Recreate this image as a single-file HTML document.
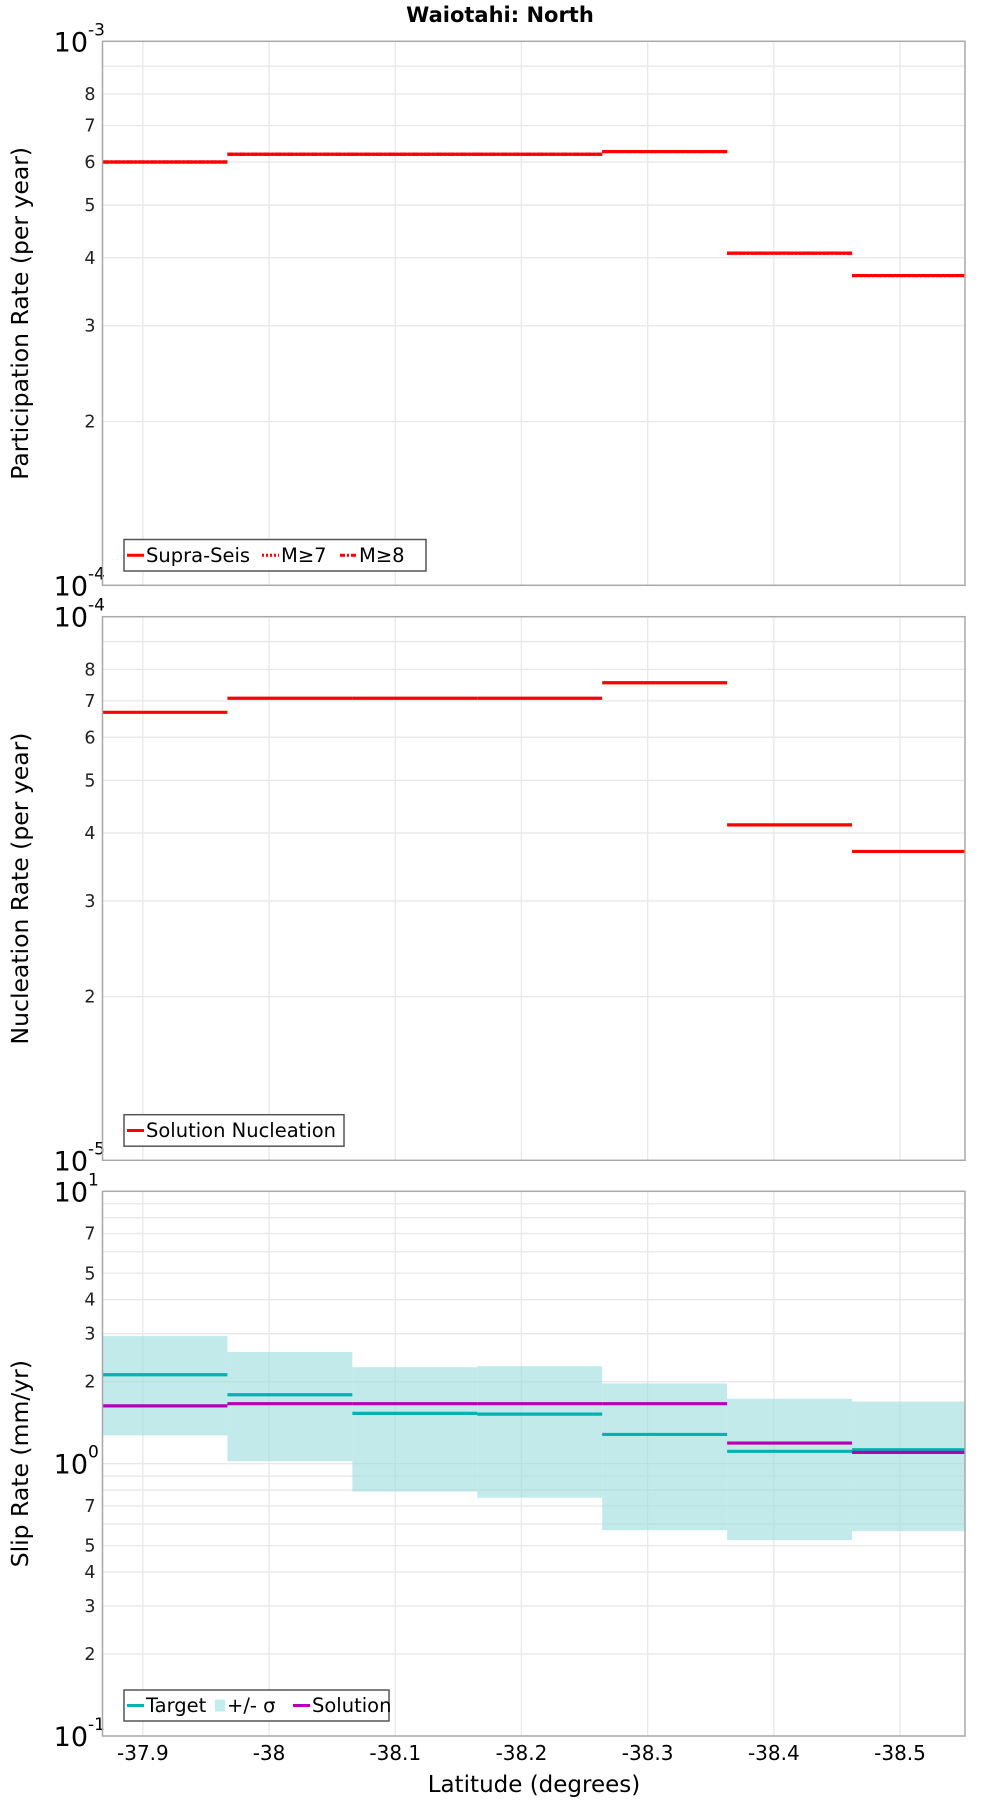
<!DOCTYPE html>
<html><head><meta charset="utf-8"><style>
html,body{margin:0;padding:0;background:#fff}
svg{display:block;font-family:"DejaVu Sans","Liberation Sans",sans-serif}
</style></head><body>
<svg id="chart" width="1000" height="1800" viewBox="0 0 1000 1800" xmlns="http://www.w3.org/2000/svg">
<text x="500" y="22" text-anchor="middle" font-size="21" font-weight="bold">Waiotahi: North</text>
<text x="534" y="1792" text-anchor="middle" font-size="23">Latitude (degrees)</text>
</svg>
<script>
// ---- data ----
const segStarts = [-37.868, -37.967, -38.066, -38.165, -38.264, -38.363, -38.462];
const segEnds   = [-37.967, -38.066, -38.165, -38.264, -38.363, -38.462, -38.561];
const participation = [6.0e-4, 6.2e-4, 6.2e-4, 6.2e-4, 6.27e-4, 4.08e-4, 3.71e-4];
const partM7 = [6.0e-4, 6.2e-4, 6.2e-4, 6.2e-4, 6.27e-4, 4.08e-4, 3.71e-4];
const partM8 = [6.0e-4, 6.2e-4, 6.2e-4, 6.2e-4, 6.27e-4, 4.08e-4, 3.71e-4];
const nucleation = [6.67e-5, 7.08e-5, 7.08e-5, 7.08e-5, 7.56e-5, 4.14e-5, 3.70e-5];
const slipTarget = [2.12, 1.79, 1.53, 1.52, 1.28, 1.11, 1.125];
const slipSolution = [1.63, 1.66, 1.66, 1.66, 1.66, 1.19, 1.10];
const slipUpper = [2.94, 2.57, 2.26, 2.28, 1.97, 1.73, 1.69];
const slipLower = [1.27, 1.02, 0.79, 0.75, 0.57, 0.524, 0.565];
const xTicks = [-37.9, -38, -38.1, -38.2, -38.3, -38.4, -38.5];
const xTickLabels = ["-37.9", "-38", "-38.1", "-38.2", "-38.3", "-38.4", "-38.5"];

const NS = "http://www.w3.org/2000/svg";
const svg = document.getElementById("chart");
const L = 102.5, R = 965, X0 = -37.868, X1 = -38.5515;
function xs(v){ return L + (v - X0) / (X1 - X0) * (R - L); }
function mk(tag, attrs, parent){
  const e = document.createElementNS(NS, tag);
  for (const k in attrs) e.setAttribute(k, attrs[k]);
  (parent || svg).appendChild(e);
  return e;
}
function cx(v){ return Math.max(L, Math.min(R, xs(v))); }

function panel(top, bottom, logMin, logMax, name, ytitle, labelDigits){
  const g = mk("g", {});
  
  
  const ys = v => bottom - (Math.log10(v) - logMin) / (logMax - logMin) * (bottom - top);
  for (let d = logMin; d < logMax; d++) {
    for (let m = 2; m <= 9; m++) {
      const y = ys(m * Math.pow(10, d));
      const gl = mk("line", {x1:L, x2:R, y1:y, y2:y, stroke:"#e8e8e8", "stroke-width":1.3}, g);
      
      
      if (labelDigits.includes(m)) {
        const t = mk("text", {x:L-7, y:y+6, "text-anchor":"end", "font-size":17.5, fill:"#222"}, g);
        
        
        t.textContent = String(m);
      }
    }
    if (d > logMin) {
      const y = ys(Math.pow(10, d));
      const gl = mk("line", {x1:L, x2:R, y1:y, y2:y, stroke:"#e8e8e8", "stroke-width":1.3}, g);
      
      
    }
  }
  for (let d = logMin; d <= logMax; d++) {
    const y = ys(Math.pow(10, d));
    const t = mk("text", {x:L-14.5, y:y+10, "text-anchor":"end", "font-size":27}, g);
    
    
    t.textContent = "10";
    const s = mk("text", {x:L-14.5, y:y-6, "font-size":17}, g);
    
    
    s.textContent = String(d);
  }
  xTicks.forEach(v => {
    const gl = mk("line", {x1:xs(v), x2:xs(v), y1:top, y2:bottom, stroke:"#e8e8e8", "stroke-width":1.3}, g);
    
    
  });
  const yt = mk("text", {transform:`translate(28,${(top+bottom)/2}) rotate(-90)`, "text-anchor":"middle", "font-size":23.5}, g);
  
  
  yt.textContent = ytitle;
  return {g, ys};
}
function frame(top, bottom){
  const f = mk("rect", {x:L, y:top, width:R-L, height:bottom-top, fill:"none", stroke:"#a8a8a8", "stroke-width":1.5});
  
  
}
function steps(ys, vals, color, dash, name, g){
  vals.forEach((v, i) => {
    const y = ys(v);
    const ln = mk("line", {x1:cx(segStarts[i]), x2:cx(segEnds[i]), y1:y, y2:y, stroke:color, "stroke-width":3.2}, g);
    if (dash) ln.setAttribute("stroke-dasharray", dash);
    
    
  });
}
function legend(x, y, w, h, items){
  const lg = mk("g", {});
  
  
  mk("rect", {x:x, y:y, width:w, height:h, fill:"#fff", stroke:"#555", "stroke-width":1.5}, lg);
  let cxp = x + 3;
  items.forEach(it => {
    const e = mk("g", {}, lg);
    
    
    const my = y + h/2;
    if (it.box) mk("rect", {x:cxp+2, y:my-6, width:10, height:12, fill:it.color}, e);
    else {
      const l = mk("line", {x1:cxp, x2:cxp+17, y1:my, y2:my, stroke:it.color, "stroke-width":3}, e);
      if (it.dash) l.setAttribute("stroke-dasharray", it.dash);
    }
    const t = mk("text", {x:cxp+(it.box?14:19), y:my+6.5, "font-size":19.5}, e);
    t.textContent = it.label;
    cxp += it.w;
  });
}

// Panel 1
const p1 = panel(41.3, 585.3, -4, -3, "participation-panel", "Participation Rate (per year)", [2,3,4,5,6,7,8]);
steps(p1.ys, participation, "#ff0000", null, "participation-step", p1.g);
steps(p1.ys, partM7, "#ff0000", "2,2", "participation-m7-step", p1.g);
steps(p1.ys, partM8, "#ff0000", "6,2,2,2", "participation-m8-step", p1.g);
frame(41.3, 585.3);
legend(124, 539.5, 302, 31.5, [
  {label:"Supra-Seis", color:"#ff0000", w:135},
  {label:"M≥7", color:"#ff0000", dash:"2,2", w:78},
  {label:"M≥8", color:"#ff0000", dash:"5,2,2,2", w:80}]);

// Panel 2
const p2 = panel(616.7, 1160.3, -5, -4, "nucleation-panel", "Nucleation Rate (per year)", [2,3,4,5,6,7,8]);
steps(p2.ys, nucleation, "#ff0000", null, "nucleation-step", p2.g);
frame(616.7, 1160.3);
legend(124, 1114.7, 220, 31.5, [{label:"Solution Nucleation", color:"#ff0000", w:210}]);

// Panel 3
const p3 = panel(1191.3, 1736, -1, 1, "slip-rate-panel", "Slip Rate (mm/yr)", [2,3,4,5,7]);
slipUpper.forEach((u, i) => {
  const y1 = p3.ys(u), y2 = p3.ys(slipLower[i]);
  const r = mk("rect", {x:cx(segStarts[i]), y:y1, width:cx(segEnds[i])-cx(segStarts[i]), height:y2-y1, fill:"#9adcdc", "fill-opacity":0.6}, p3.g);
  
  
});
steps(p3.ys, slipTarget, "#00b3b3", null, "target-step", p3.g);
steps(p3.ys, slipSolution, "#b300b3", null, "solution-step", p3.g);
frame(1191.3, 1736);
legend(124, 1690, 265, 31, [
  {label:"Target", color:"#00b3b3", w:86},
  {label:"+/- σ", color:"#c2ecec", box:true, w:80},
  {label:"Solution", color:"#b300b3", w:95}]);

// x ticks
xTicks.forEach((v, i) => {
  const t = mk("text", {x:xs(v), y:1760, "text-anchor":"middle", "font-size":20});
  
  
  t.textContent = xTickLabels[i];
});
</script>
</body></html>
